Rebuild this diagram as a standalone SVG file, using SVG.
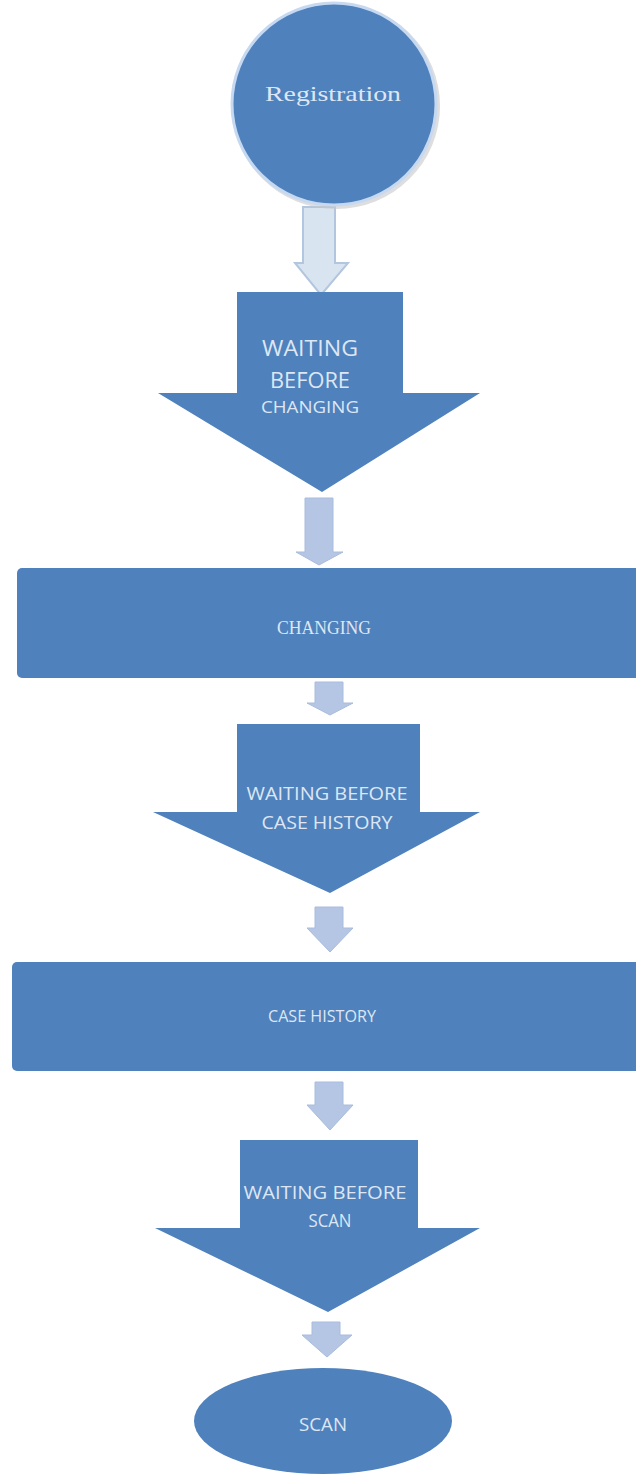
<svg xmlns="http://www.w3.org/2000/svg" width="636" height="1474" viewBox="0 0 636 1474">
  <style>
    .node { fill: #4f81bd; }
    .conn { fill: #b4c6e4; stroke: #a9bcdc; stroke-width: 1; }
    .sans { font-family: "Open Sans", "Liberation Sans", sans-serif; fill: #dde7f3; text-anchor: middle; }
    .serif { font-family: "Liberation Serif", "DejaVu Serif", serif; fill: #dde7f3; text-anchor: middle; }
  </style>
  <rect width="636" height="1474" fill="#ffffff"/>

  <g id="connectors">
    <path d="M303,207 L335,207 L335,263 L348,263 L321,295 L295,263 L303,263 Z" fill="#d9e4f1" stroke="#b3c6df" stroke-width="2"/>
    <path class="conn" d="M305,498 L333,498 L333,552 L343,552 L319,565 L296,552 L305,552 Z"/>
    <path class="conn" d="M315,682 L343,682 L343,703 L353,703 L330,715 L307,703 L315,703 Z"/>
    <path class="conn" d="M315,907 L343,907 L343,928 L353,928 L330,952 L307,928 L315,928 Z"/>
    <path class="conn" d="M315,1082 L343,1082 L343,1105 L353,1105 L330,1130 L307,1105 L315,1105 Z"/>
    <path class="conn" d="M312,1322 L340,1322 L340,1335 L352,1335 L327,1357 L302,1335 L312,1335 Z"/>
  </g>

  <g id="registration">
    <ellipse cx="336" cy="106" rx="104" ry="103" fill="#c8c8c8" opacity="0.6"/>
    <ellipse cx="334" cy="104" rx="102" ry="101" class="node" stroke="#c6d9f0" stroke-width="3"/>
    <text x="333" y="101" class="serif" font-size="22" textLength="136" lengthAdjust="spacingAndGlyphs">Registration</text>
  </g>

  <g id="waiting-before-changing">
    <path class="node" d="M237,292 L403,292 L403,393 L480,393 L322,492 L158,393 L237,393 Z"/>
    <text x="310" y="356" class="sans" font-size="22" textLength="96" lengthAdjust="spacingAndGlyphs">WAITING</text>
    <text x="310" y="388" class="sans" font-size="21" textLength="80" lengthAdjust="spacingAndGlyphs">BEFORE</text>
    <text x="310" y="413" class="sans" font-size="16" textLength="98" lengthAdjust="spacingAndGlyphs">CHANGING</text>
  </g>

  <g id="changing">
    <rect class="node" x="17" y="568" width="624" height="110" rx="5"/>
    <text x="324" y="634" class="serif" font-size="18" textLength="94" lengthAdjust="spacingAndGlyphs">CHANGING</text>
  </g>

  <g id="waiting-before-case-history">
    <path class="node" d="M237,724 L420,724 L420,812 L480,812 L330,893 L153,812 L237,812 Z"/>
    <text x="327" y="800" class="sans" font-size="18" textLength="161" lengthAdjust="spacingAndGlyphs">WAITING BEFORE</text>
    <text x="327" y="829" class="sans" font-size="18" textLength="131" lengthAdjust="spacingAndGlyphs">CASE HISTORY</text>
  </g>

  <g id="case-history">
    <rect class="node" x="12" y="962" width="629" height="109" rx="5"/>
    <text x="322" y="1022" class="sans" font-size="17" textLength="108" lengthAdjust="spacingAndGlyphs">CASE HISTORY</text>
  </g>

  <g id="waiting-before-scan">
    <path class="node" d="M240,1140 L418,1140 L418,1228 L480,1228 L328,1312 L155,1228 L240,1228 Z"/>
    <text x="325" y="1199" class="sans" font-size="18" textLength="163" lengthAdjust="spacingAndGlyphs">WAITING BEFORE</text>
    <text x="330" y="1227" class="sans" font-size="18" textLength="43" lengthAdjust="spacingAndGlyphs">SCAN</text>
  </g>

  <g id="scan">
    <ellipse class="node" cx="323" cy="1421" rx="129" ry="53"/>
    <text x="323" y="1431" class="sans" font-size="18" textLength="48" lengthAdjust="spacingAndGlyphs">SCAN</text>
  </g>
</svg>
